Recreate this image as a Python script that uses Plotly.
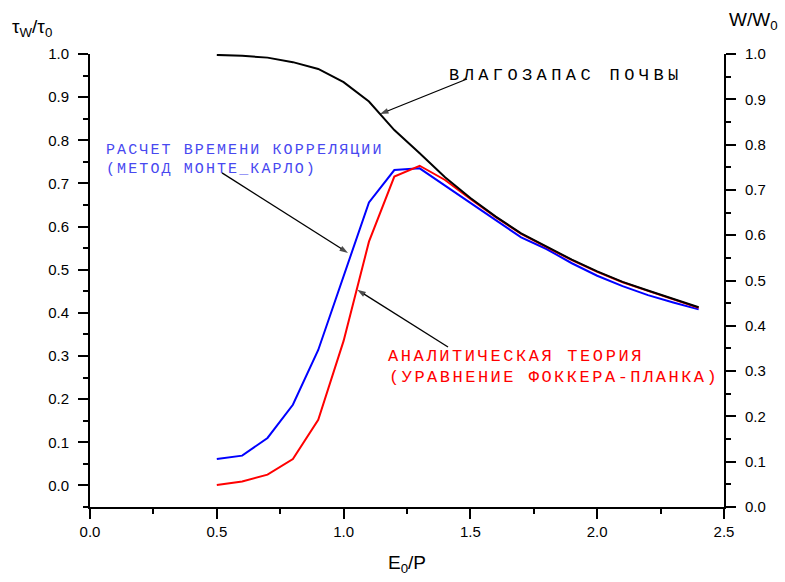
import plotly.graph_objects as go

# ---- data ----
x_vals = [0.5, 0.6, 0.7, 0.8, 0.9, 1.0, 1.1, 1.2, 1.3, 1.4, 1.5, 1.6, 1.7, 1.8, 1.9, 2.0, 2.1, 2.2, 2.3, 2.4]
moisture_W = [0.998, 0.996, 0.992, 0.982, 0.967, 0.938, 0.895, 0.832, 0.781, 0.728, 0.682, 0.641, 0.604, 0.575,
              0.546, 0.520, 0.497, 0.478, 0.459, 0.441]
monte_carlo = [0.061, 0.069, 0.110, 0.187, 0.314, 0.486, 0.656, 0.731, 0.735, 0.695, 0.654, 0.615, 0.575, 0.548,
               0.515, 0.486, 0.462, 0.441, 0.424, 0.408]
fokker_planck = [0.001, 0.009, 0.025, 0.061, 0.152, 0.335, 0.565, 0.716, 0.741, 0.708, 0.664, 0.622, 0.583, 0.553,
                 0.522, 0.495, 0.471, 0.451, 0.431, 0.412]

x_ticks = [0.0, 0.5, 1.0, 1.5, 2.0, 2.5]

label_moisture = "ВЛАГОЗАПАС ПОЧВЫ"
label_mc_1 = "РАСЧЕТ ВРЕМЕНИ КОРРЕЛЯЦИИ"
label_mc_2 = "(МЕТОД МОНТЕ_КАРЛО)"
label_fp_1 = "АНАЛИТИЧЕСКАЯ ТЕОРИЯ"
label_fp_2 = "(УРАВНЕНИЕ ФОККЕРА-ПЛАНКА)"

# ---- layout geometry (pixels) ----
W, H = 785, 582
L, R, T, B = 90, 61, 54, 75
pw, ph = W - L - R, H - T - B

def px(xp):
    return (xp - L) / pw

def py(yp):
    return (H - B - yp) / ph

fig = go.Figure()
fig.add_trace(go.Scatter(x=x_vals, y=monte_carlo, mode="lines", line=dict(color="#0000FF", width=2),
                         yaxis="y", showlegend=False))
fig.add_trace(go.Scatter(x=x_vals, y=fokker_planck, mode="lines", line=dict(color="#FF0000", width=2),
                         yaxis="y", showlegend=False))
fig.add_trace(go.Scatter(x=x_vals, y=moisture_W, mode="lines", line=dict(color="#000000", width=2),
                         yaxis="y2", showlegend=False))

# pointer arrows (tail -> head), placed in axis coordinates
arrows = [
    dict(tail=(1.4866, 0.9448), head=(1.1435, 0.8675), axis="y2"),
    dict(tail=(0.5205, 0.7244), head=(1.0174, 0.5390), axis="y"),
    dict(tail=(1.4117, 0.3210), head=(1.0540, 0.4534), axis="y"),
]
for a in arrows:
    fig.add_trace(go.Scatter(
        x=[a["tail"][0], a["head"][0]], y=[a["tail"][1], a["head"][1]], yaxis=a["axis"],
        mode="lines+markers", line=dict(color="#000000", width=1.3),
        marker=dict(symbol="arrow", angleref="previous", size=[0, 9], color="#000000",
                    line=dict(width=0)),
        showlegend=False, hoverinfo="skip"))

tick_font = dict(family="Liberation Sans, Arial, sans-serif", size=15, color="#000000")
title_font = dict(family="Liberation Sans, Arial, sans-serif", size=19, color="#000000")
axis_common = dict(showline=True, linecolor="#000000", linewidth=2, ticks="outside", ticklen=10,
                   tickwidth=2, tickcolor="#000000", showgrid=False, zeroline=False, tickfont=tick_font)

fig.update_layout(
    width=W, height=H,
    margin=dict(l=L, r=R, t=T, b=B),
    paper_bgcolor="white", plot_bgcolor="white",
    title=dict(text="τ<sub>W</sub>/τ<sub>0</sub>", xref="container", yref="container",
               x=12 / W, y=1 - 26 / H, xanchor="left", yanchor="middle", font=title_font),
    xaxis=dict(range=[0, 2.5], tickvals=x_ticks, tickformat=".1f",
               minor=dict(dtick=0.25, tick0=0, ticklen=5, tickwidth=2, tickcolor="#000000", ticks="outside"),
               ticklabelstandoff=0,
               title=dict(text="E<sub>0</sub>/P", font=title_font, standoff=17),
               **axis_common),
    yaxis=dict(range=[-0.05, 1.0], tick0=0, dtick=0.1, tickformat=".1f",
               minor=dict(dtick=0.05, tick0=0, ticklen=5, tickwidth=2, tickcolor="#000000", ticks="outside"),
               ticklabelstandoff=6, **axis_common),
    yaxis2=dict(range=[0, 1.0], tick0=0, dtick=0.1, tickformat=".1f", overlaying="y", side="right",
                minor=dict(dtick=0.05, tick0=0, ticklen=5, tickwidth=2, tickcolor="#000000", ticks="outside"),
                ticklabelstandoff=6, **axis_common),
)

mono = "Liberation Mono, Courier New, monospace"


def label(text, x, y, size, color):
    return dict(text=text, x=px(x), y=py(y), xref="paper", yref="paper", xanchor="left", yanchor="middle",
                align="left", showarrow=False, font=dict(family=mono, size=size, color=color))


annotations = [
    dict(text="W/W<sub>0</sub>", x=px(727), y=py(21), xref="paper", yref="paper",
         xanchor="left", yanchor="middle", showarrow=False, font=title_font),
    label(label_moisture, 447, 75, 17, "#000000"),
    label(label_mc_1, 104, 150, 15, "#4848F0"),
    label(label_mc_2, 104, 169, 15, "#4848F0"),
    label(label_fp_1, 386, 356, 17, "#FF0000"),
    label(label_fp_2, 387, 377, 17, "#FF0000"),
]
fig.update_layout(annotations=annotations)

# letter spacing (Courier-like wide set) applied to the label texts after render
spacing = {label_moisture: 4.4, label_mc_1: 2.1, label_mc_2: 2.1, label_fp_1: 2.6, label_fp_2: 2.5}
js_map = ",".join(f'"{k}":{v}' for k, v in spacing.items())
post = """
var gd = document.getElementById('{plot_id}');
var sp = {%s};
gd.querySelectorAll('.annotation-text').forEach(function(t){
  var v = sp[t.textContent];
  if (v !== undefined) { t.style.letterSpacing = v + 'px'; }
});
""" % js_map

fig.write_html("out.html", post_script=post)
